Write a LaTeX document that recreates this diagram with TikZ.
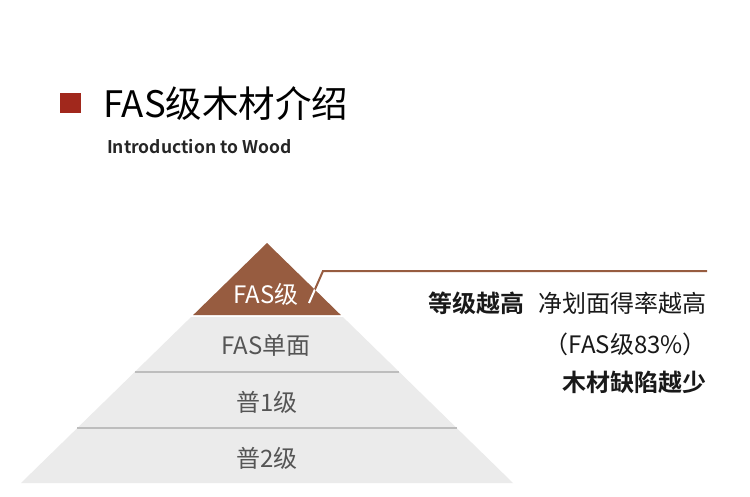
\documentclass[tikz,border=0pt]{standalone}
\usepackage{fontspec}
\setmainfont{Noto Sans CJK SC}
\newfontfamily\cjk{Noto Sans CJK SC}
\newfontfamily\cjkbold{Noto Sans CJK SC Bold}
\usetikzlibrary{positioning}
\definecolor{woodbrown}{HTML}{975C40}
\definecolor{titlered}{HTML}{A1281C}
\definecolor{bandgray}{HTML}{EBEBEB}
\definecolor{rulegray}{HTML}{BDBDBD}
\definecolor{labelgray}{HTML}{555555}
\tikzset{
  levellabel/.style={inner sep=0pt,text=labelgray,font=\cjk\fontsize{24}{28}\selectfont},
  sidetext/.style={inner sep=0pt,anchor=east,text=black!90,font=\cjk\fontsize{24}{28}\selectfont},
}

\begin{document}
\begin{tikzpicture}[x=1pt,y=-1pt]
  \useasboundingbox[fill=white] (0,0) rectangle (750,496);

  % Heading.
  \fill[titlered] (60,93) rectangle (81,113);
  \node[inner sep=0pt,anchor=west,font=\cjk\fontsize{36.5}{42}\selectfont] (title) at (103,104) {FAS级木材介绍};
  \node[inner sep=0pt,anchor=west,font=\cjkbold\fontsize{17.5}{20}\selectfont,text=black!85] (subtitle) at (107,147) {Introduction to Wood};

  % Gray lower levels.
  \fill[bandgray] (191.1,317) -- (342.9,317) -- (513,483) -- (21,483) -- cycle;
  \draw[rulegray,line width=1.5pt] (134.8,372) -- (399.2,372);
  \draw[rulegray,line width=1.5pt] (77.4,428) -- (456.6,428);

  % Brown top level.
  \fill[woodbrown] (267,243) -- (340.8,315) -- (193.2,315) -- cycle;

  % Leader line, white where it crosses the top level.
  \coordinate (lead) at (309,303);
  \coordinate (bend) at (323,271);
  \coordinate (lineend) at (707,271);
  \draw[woodbrown,line width=2pt] (lead) -- (bend) -- (lineend);
  \begin{scope}
    \clip (267,243) -- (340.8,315) -- (193.2,315) -- cycle;
    \draw[white,line width=2pt] (lead) -- (bend);
  \end{scope}

  % Level labels.
  \node[levellabel,text=white] (fas) at (266,294) {FAS级};
  \node[levellabel] (fasone) at (266,345) {FAS单面};
  \node[levellabel] (pone) at (267,402) {普1级};
  \node[levellabel] (ptwo) at (267,458) {普2级};

  % Right-hand notes.
  \node[sidetext] (rateline) at (707,303) {{\cjkbold 等级越高}\hspace{14pt}净划面得率越高};
  \node[sidetext] (pct) at (707,344) {（FAS级83\%）};
  \node[sidetext,font=\cjkbold\fontsize{24}{28}\selectfont] (defect) at (707,382) {木材缺陷越少};
\end{tikzpicture}
\end{document}
